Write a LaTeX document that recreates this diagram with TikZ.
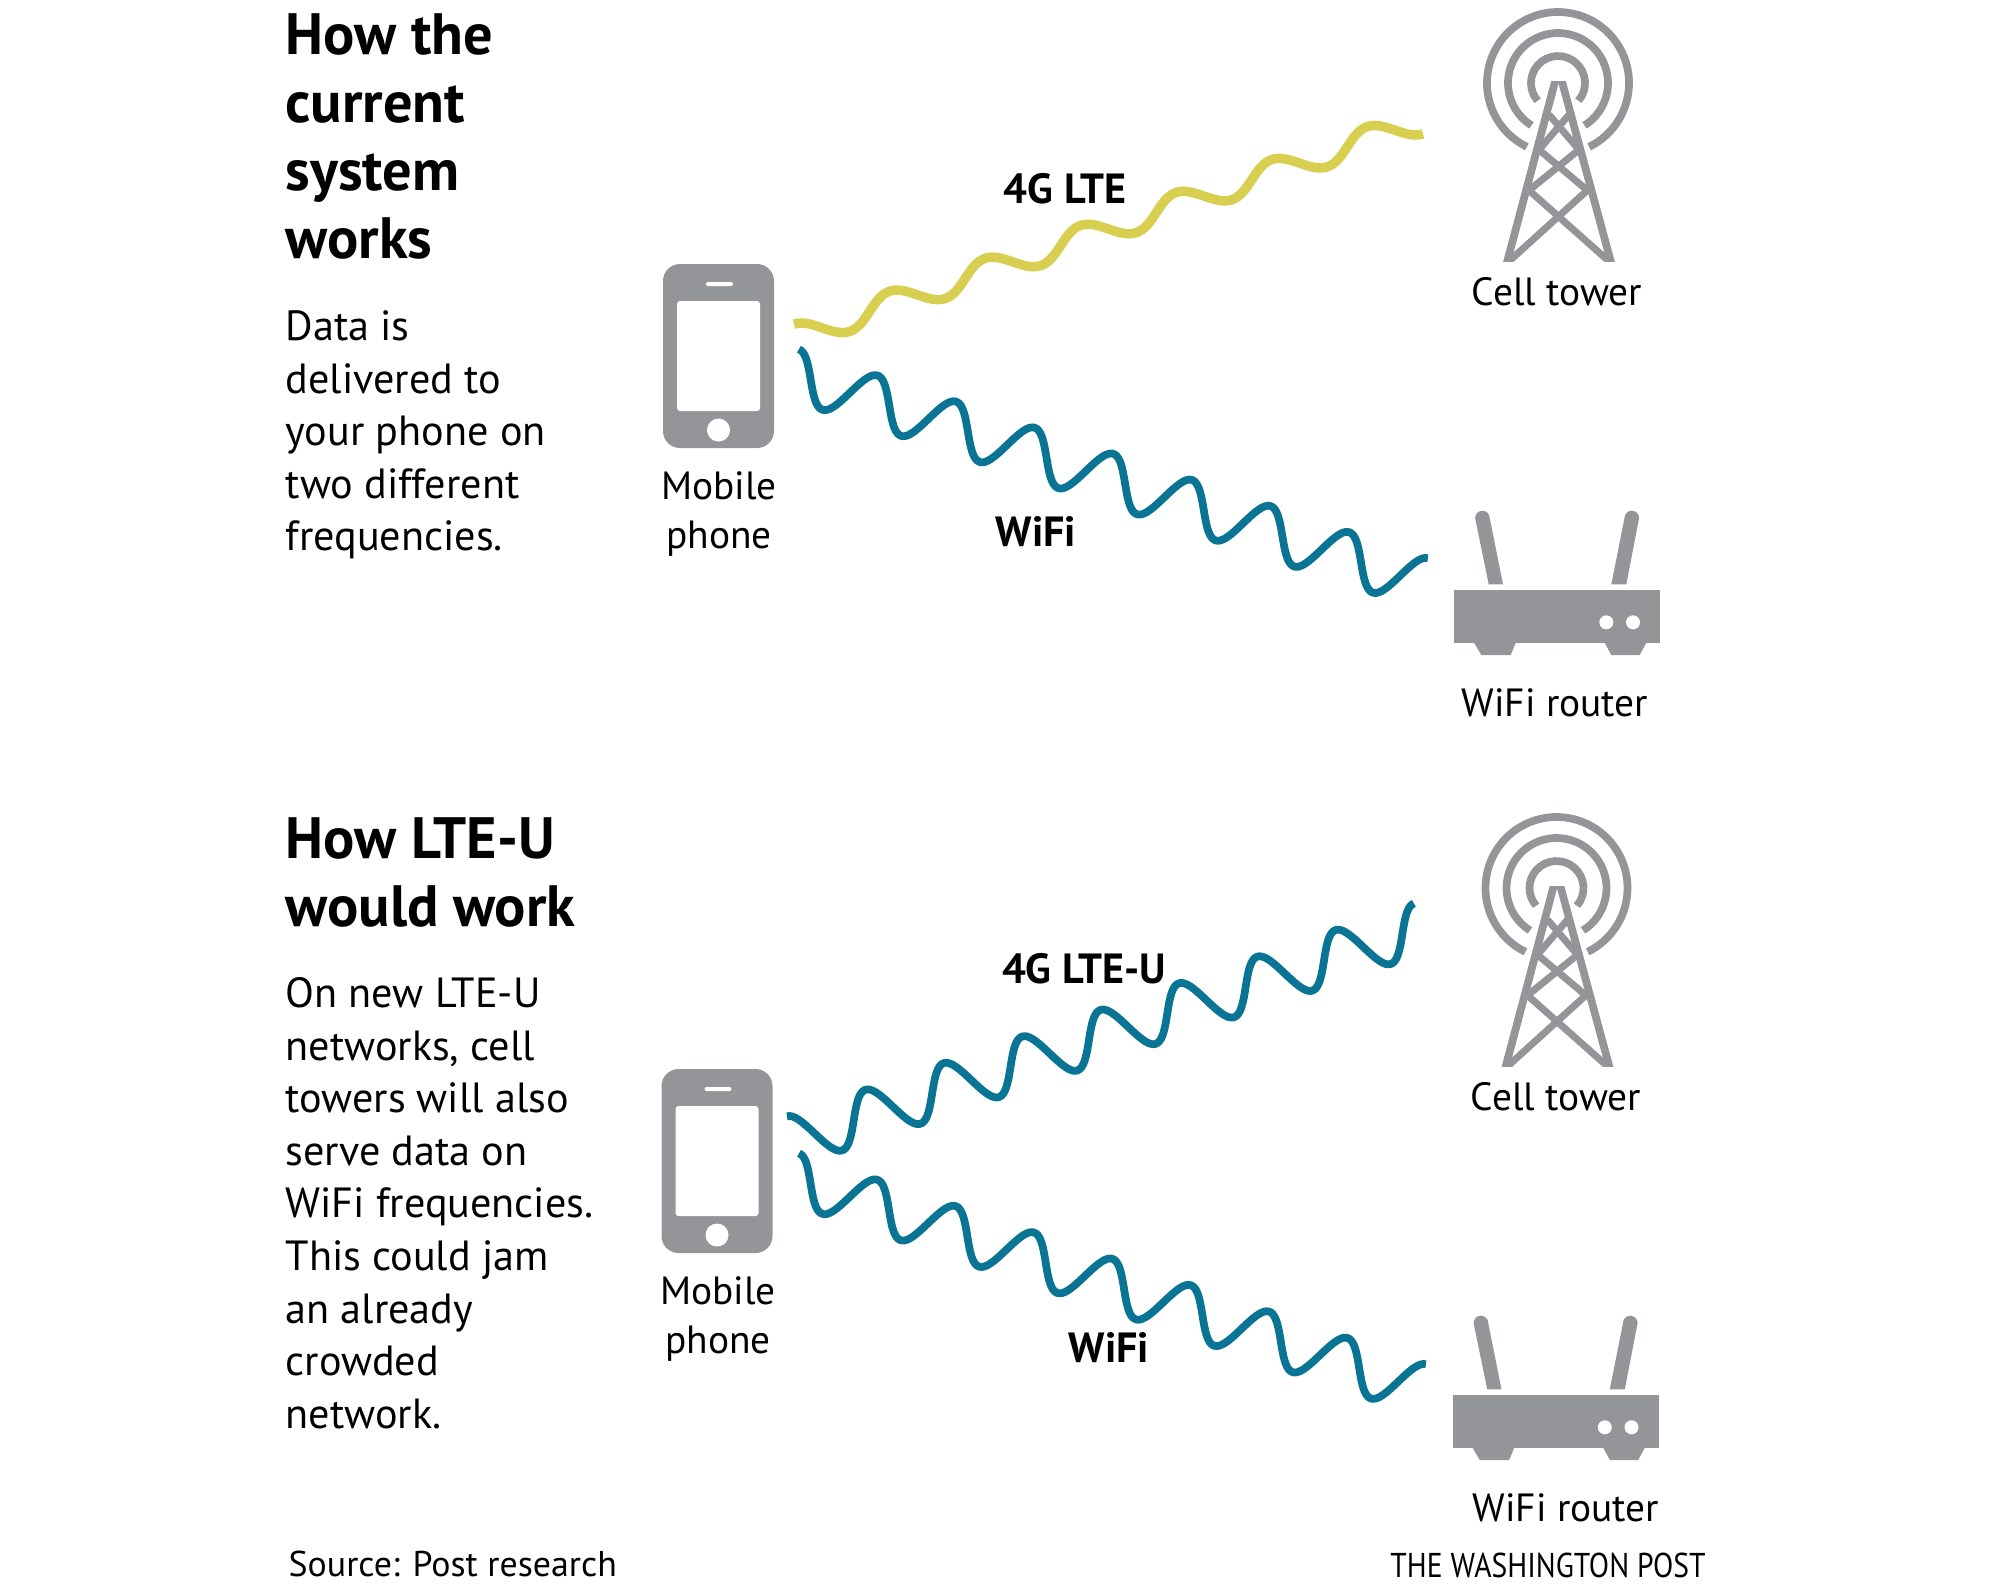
\documentclass[tikz,border=0pt]{standalone}
\usepackage{fontspec}
\setmainfont{PT Sans}
\newfontfamily\narrowfont[FakeStretch=0.86]{PT Sans}
\usetikzlibrary{calc}
\definecolor{icongray}{RGB}{147,149,152}
\definecolor{wifiblue}{RGB}{10,116,148}
\definecolor{lteyellow}{RGB}{216,207,80}
\tikzstyle{headtxt}=[anchor=north west, inner sep=0pt, align=left, font=\fontsize{16.6}{19.35}\selectfont\bfseries]
\tikzstyle{bodytxt}=[anchor=north west, inner sep=0pt, align=left, font=\fontsize{12}{14.95}\selectfont]
\tikzstyle{lbl}=[inner sep=0pt, align=center, font=\fontsize{11.2}{14.2}\selectfont]
\tikzstyle{wlbl}=[inner sep=0pt, font=\fontsize{12}{14}\selectfont\bfseries]
\tikzstyle{srctxt}=[inner sep=0pt, font=\fontsize{10.2}{11}\selectfont]
\tikzstyle{bluewav}=[draw=wifiblue, line width=2.2pt, line join=round]
\tikzstyle{yelwav}=[draw=lteyellow, line width=2.7pt, line join=round]
\newcommand{\wavedraw}[5]{
  \coordinate (wavf) at ($(#2)!2!(#3)$);
  \draw[#1] plot[domain=0:1, samples=260]
    ({$(#2)!\x!(#3)!{#5*cos(360*#4*\x)}!90:(wavf)$});
}
\tikzset{
  phone/.pic={
    \fill[icongray, rounded corners=0.17cm] (0,0) rectangle (1.11,-1.84);
    \fill[white, rounded corners=0.03cm] (0.14,-0.37) rectangle (0.97,-1.47);
    \fill[white, rounded corners=0.02cm] (0.43,-0.18) rectangle (0.70,-0.22);
    \fill[white] (0.555,-1.66) circle (0.115);
  },
  tower/.pic={
    \draw[icongray, line width=2.2pt] (-64:0.71) arc[start angle=-64, end angle=244, radius=0.71];
    \draw[icongray, line width=2.2pt] (-58:0.50) arc[start angle=-58, end angle=238, radius=0.50];
    \draw[icongray, line width=2.2pt] (-41:0.27) arc[start angle=-41, end angle=221, radius=0.27];
    \begin{scope}
      \clip (-1,0.02) rectangle (1,-1.783);
      \draw[icongray, line width=2.2pt] (-0.02,0.05) -- (-0.52,-1.83);
      \draw[icongray, line width=2.2pt] (0.03,0.05) -- (0.54,-1.83);
      \draw[icongray, line width=2pt] (-0.52,-1.81) -- (0.293,-1.073) -- (-0.19,-0.667) -- (0.11,-0.317);
      \draw[icongray, line width=2pt] (0.54,-1.81) -- (-0.29,-1.073) -- (0.21,-0.667) -- (-0.09,-0.317);
    \end{scope}
  },
  router/.pic={
    \fill[icongray] (0,0) rectangle (2.06,-0.527);
    \fill[icongray] (0.2,-0.527) -- (0.617,-0.527) -- (0.567,-0.65) -- (0.273,-0.65) -- cycle;
    \fill[icongray] (1.507,-0.527) -- (1.923,-0.527) -- (1.857,-0.65) -- (1.573,-0.65) -- cycle;
    \fill[white] (1.523,-0.323) circle (0.07);
    \fill[white] (1.79,-0.323) circle (0.07);
    \fill[icongray] (0.347,0.057) -- (0.211,0.72) arc[start angle=180, end angle=0, radius=0.073] -- (0.49,0.057) -- cycle;
    \fill[icongray] (1.573,0.057) -- (1.705,0.72) arc[start angle=180, end angle=0, radius=0.073] -- (1.723,0.057) -- cycle;
  }
}
\begin{document}
\begin{tikzpicture}
  \useasboundingbox (0,0) rectangle (20,-15.92);

  \node[headtxt] (h1) at (2.85,-0.13) {How the\\current\\system\\works};
  \node[bodytxt] (b1) at (2.85,-3.10) {Data is\\delivered to\\your phone on\\two different\\frequencies.};
  \pic at (6.63,-2.64) {phone};
  \pic at (15.58,-0.83) {tower};
  \pic at (14.54,-5.90) {router};
  \node[lbl] (m1) at (7.19,-5.14) {Mobile\\phone};
  \node[lbl] (t1) at (15.57,-2.92) {Cell tower};
  \node[lbl] (r1) at (15.55,-7.03) {WiFi router};
  \coordinate (y1s) at (7.98,-3.36);
  \coordinate (y1e) at (14.19,-1.22);
  \coordinate (w1s) at (7.91,-3.73);
  \coordinate (w1e) at (14.20,-5.82);
  \wavedraw{yelwav}{y1s}{y1e}{6.5}{0.125cm}
  \wavedraw{bluewav}{w1s}{w1e}{8}{0.25cm}
  \node[wlbl] (l1) at (10.65,-1.89) {4G LTE};
  \node[wlbl] (l2) at (10.36,-5.32) {WiFi};

  \node[headtxt] (h2) at (2.85,-8.17) {How LTE-U\\would work};
  \node[bodytxt] (b2) at (2.85,-9.77) {On new LTE-U\\networks, cell\\towers will also\\serve data on\\WiFi frequencies.\\This could jam\\an already\\crowded\\network.};
  \pic at (6.615,-10.69) {phone};
  \pic at (15.565,-8.88) {tower};
  \pic at (14.525,-13.95) {router};
  \node[lbl] (m2) at (7.18,-13.19) {Mobile\\phone};
  \node[lbl] (t2) at (15.56,-10.97) {Cell tower};
  \node[lbl] (r2) at (15.66,-15.08) {WiFi router};
  \coordinate (b2s) at (7.95,-11.40);
  \coordinate (b2e) at (14.22,-9.27);
  \coordinate (w2s) at (7.91,-11.77);
  \coordinate (w2e) at (14.18,-13.88);
  \wavedraw{bluewav}{b2s}{b2e}{8}{0.25cm}
  \wavedraw{bluewav}{w2s}{w2e}{8}{0.25cm}
  \node[wlbl] (l3) at (10.84,-9.69) {4G LTE-U};
  \node[wlbl] (l4) at (11.09,-13.48) {WiFi};

  \node[srctxt, anchor=west] (s1) at (2.88,-15.64) {Source: Post research};
  \node[srctxt, font=\fontsize{9.8}{11}\narrowfont] (s2) at (15.48,-15.65) {THE WASHINGTON POST};
\end{tikzpicture}
\end{document}
